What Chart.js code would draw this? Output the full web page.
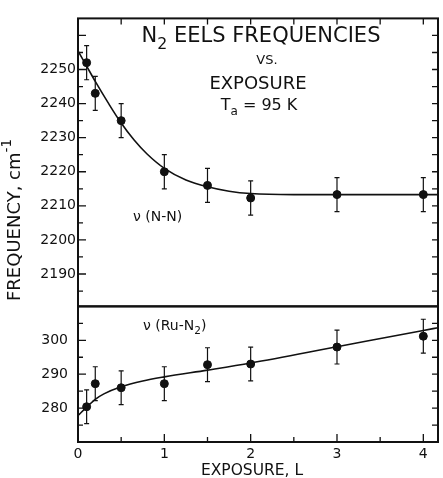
<!DOCTYPE html>
<html>
<head>
<meta charset="utf-8">
<title>N2 EELS frequencies vs exposure</title>
<script src="https://cdn.jsdelivr.net/npm/chart.js@4.4.0/dist/chart.umd.min.js"></script>
<style>
  html, body { margin: 0; padding: 0; background: #fff; }
</style>
</head>
<body>
<canvas id="myChart" width="443" height="478"></canvas>
<script>
'use strict';

// exposure (L) of each measured point
let exposure = [0.1, 0.2, 0.5, 1, 1.5, 2, 3, 4];

// nu(N-N) frequencies (cm-1) and error bars
let nnFreq = [2252, 2243, 2235, 2220, 2216, 2212.3, 2213.3, 2213.3];
let nnErr = [5, 5, 5, 5, 5, 5, 5, 5];

// nu(Ru-N2) frequencies (cm-1) and error bars
let ruFreq = [280.4, 287.2, 286, 287.2, 292.8, 293, 298, 301.2];
let ruErr = [5, 5, 5, 5, 5, 5, 5, 5];

// hand drawn fit curves
let nnCurveX = [0, 0.1, 0.2, 0.35, 0.5, 0.65, 0.8, 1, 1.25, 1.5, 1.75, 2, 2.5, 3, 4, 4.17];
let nnCurveY = [2255.5, 2251, 2246.5, 2240.2, 2234.3, 2229.3, 2225.2, 2221, 2217.6, 2215.6, 2214.3, 2213.6, 2213.3, 2213.3, 2213.3, 2213.3];
let ruCurveX = [0, 0.1, 0.2, 0.3, 0.5, 0.75, 1, 1.5, 2, 3, 4, 4.17];
let ruCurveY = [277.8, 280.3, 282.6, 284.2, 286.3, 288, 289.2, 291.2, 293.3, 298.1, 302.9, 303.7];

// tick labels
let xTicks = [0, 1, 2, 3, 4];
let nnTicks = [2190, 2200, 2210, 2220, 2230, 2240, 2250];
let ruTicks = [280, 290, 300];

let FONT = '"DejaVu Sans"';
let INK = '#111';


function toPoints(xs, ys) {
  return xs.map((v, i) => ({ x: v, y: ys[i] }));
}

// draws text runs like [['N'], ['2', 'sub']] centred or left aligned
function drawRich(ctx, parts, x, y, size, align) {
  let total = 0;
  for (let p of parts) {
    ctx.font = (p[1] ? size * 0.75 : size) + 'px ' + FONT;
    total += ctx.measureText(p[0]).width;
  }
  let cx = align === 'left' ? x : x - total / 2;
  ctx.textAlign = 'left';
  ctx.textBaseline = 'middle';
  for (let p of parts) {
    let s = p[1] ? size * 0.75 : size;
    ctx.font = s + 'px ' + FONT;
    let dy = 0;
    if (p[1] === 'sub') dy = size * 0.38;
    if (p[1] === 'sup') dy = -size * 0.42;
    ctx.fillText(p[0], cx, y + dy);
    cx += ctx.measureText(p[0]).width;
  }
}

function drawErrors(ctx, xs, ys, vals, errs) {
  ctx.strokeStyle = INK;
  ctx.lineWidth = 1.2;
  for (let i = 0; i < exposure.length; i++) {
    let px = xs.getPixelForValue(exposure[i]);
    let hi = ys.getPixelForValue(vals[i] + errs[i]);
    let lo = ys.getPixelForValue(vals[i] - errs[i]);
    ctx.beginPath();
    ctx.moveTo(px, hi); ctx.lineTo(px, lo);
    ctx.moveTo(px - 2.5, hi); ctx.lineTo(px + 2.5, hi);
    ctx.moveTo(px - 2.5, lo); ctx.lineTo(px + 2.5, lo);
    ctx.stroke();
  }
}

// inward ticks on one panel, every 5 units on y
function drawYTicks(ctx, xs, ys, from, to) {
  for (let v = from; v <= to; v += 5) {
    let py = ys.getPixelForValue(v);
    let len = v % 10 === 0 ? 8 : 5;
    ctx.beginPath();
    ctx.moveTo(xs.left, py); ctx.lineTo(xs.left + len, py);
    ctx.moveTo(xs.right, py); ctx.lineTo(xs.right - 6, py);
    ctx.stroke();
  }
}

let decorations = {
  id: 'decorations',
  beforeDatasetsDraw(chart) {
    let ctx = chart.ctx;
    let s = chart.scales;
    ctx.save();
    drawErrors(ctx, s.x, s.yTop, nnFreq, nnErr);
    drawErrors(ctx, s.x, s.yBot, ruFreq, ruErr);
    ctx.restore();
  },
  afterDatasetsDraw(chart) {
    let ctx = chart.ctx;
    let s = chart.scales;
    let x = s.x, top = s.yTop, bot = s.yBot;
    ctx.save();

    // panel frames
    ctx.strokeStyle = INK;
    ctx.lineWidth = 2;
    ctx.strokeRect(x.left, top.top, x.right - x.left, top.bottom - top.top);
    ctx.strokeRect(x.left, bot.top, x.right - x.left, bot.bottom - bot.top);

    // ticks
    ctx.lineWidth = 1.3;
    drawYTicks(ctx, x, top, 2185, 2260);
    drawYTicks(ctx, x, bot, 275, 305);
    for (let v = 0; v <= 4; v += 0.5) {
      let px = x.getPixelForValue(v);
      let len = v % 1 === 0 ? 8 : 5;
      ctx.beginPath();
      ctx.moveTo(px, bot.bottom); ctx.lineTo(px, bot.bottom - len);
      ctx.moveTo(px, top.top); ctx.lineTo(px, top.top + 6);
      ctx.stroke();
    }

    // heading and labels
    ctx.fillStyle = INK;
    drawRich(ctx, [['N'], ['2', 'sub'], [' EELS FREQUENCIES']], 261, 37, 21);
    drawRich(ctx, [['VS.']], 267, 61, 13);
    drawRich(ctx, [['EXPOSURE']], 258, 84, 18);
    drawRich(ctx, [['T'], ['a', 'sub'], [' = 95 K']], 259, 106, 16);
    drawRich(ctx, [['ν (N-N)']], 133, 217, 14, 'left');
    drawRich(ctx, [['ν (Ru-N'], ['2', 'sub'], [')']], 143, 326, 14, 'left');
    drawRich(ctx, [['EXPOSURE, L']], 252, 471, 15.5);

    // y title, rotated
    ctx.translate(15, 220);
    ctx.rotate(-Math.PI / 2);
    drawRich(ctx, [['FREQUENCY, cm'], ['-1', 'sup']], 0, 0, 18);

    ctx.restore();
  }
};


let lineStyle = {
  type: 'line',
  showLine: true,
  borderColor: INK,
  borderWidth: 1.6,
  pointRadius: 0,
  cubicInterpolationMode: 'monotone',
  fill: false
};

let dotStyle = {
  backgroundColor: INK,
  borderColor: INK,
  pointRadius: 4,
  pointHoverRadius: 4
};

let tickFont = { family: 'DejaVu Sans', size: 14 };
let plainLabel = v => String(v);

let chartObject = {
  type: 'scatter',
  data: {
    datasets: [
      Object.assign({ label: 'N-N fit', data: toPoints(nnCurveX, nnCurveY), yAxisID: 'yTop' }, lineStyle),
      Object.assign({ label: 'Ru-N2 fit', data: toPoints(ruCurveX, ruCurveY), yAxisID: 'yBot' }, lineStyle),
      Object.assign({ label: 'N-N', data: toPoints(exposure, nnFreq), yAxisID: 'yTop' }, dotStyle),
      Object.assign({ label: 'Ru-N2', data: toPoints(exposure, ruFreq), yAxisID: 'yBot' }, dotStyle)
    ]
  },
  options: {
    responsive: false,
    animation: false,
    layout: { padding: { left: 0, top: 11, right: 4, bottom: 0 } },
    plugins: {
      legend: { display: false },
      tooltip: { enabled: false }
    },
    scales: {
      x: {
        type: 'linear',
        min: 0,
        max: 4.17,
        grid: { display: false, drawTicks: false },
        border: { display: false },
        ticks: { font: tickFont, color: INK, padding: 4, maxRotation: 0, callback: plainLabel },
        afterBuildTicks: scale => { scale.ticks = xTicks.map(v => ({ value: v })); },
        afterFit: scale => { scale.height = 36; }
      },
      yBot: {
        type: 'linear',
        position: 'left',
        stack: 'panels',
        stackWeight: 138,
        min: 270,
        max: 310,
        grid: { display: false, drawTicks: false },
        border: { display: false },
        ticks: { font: tickFont, color: INK, padding: 10, callback: plainLabel },
        afterBuildTicks: scale => { scale.ticks = ruTicks.map(v => ({ value: v })); },
        afterFit: scale => { scale.width = 78; }
      },
      yTop: {
        type: 'linear',
        position: 'left',
        stack: 'panels',
        stackWeight: 293,
        min: 2180.5,
        max: 2265,
        grid: { display: false, drawTicks: false },
        border: { display: false },
        ticks: { font: tickFont, color: INK, padding: 2, callback: plainLabel },
        afterBuildTicks: scale => { scale.ticks = nnTicks.map(v => ({ value: v })); },
        afterFit: scale => { scale.width = 78; }
      }
    }
  },
  plugins: [decorations]
};

let ctx = document.getElementById('myChart').getContext('2d');
let myChart = new Chart(ctx, chartObject);
</script>
</body>
</html>
